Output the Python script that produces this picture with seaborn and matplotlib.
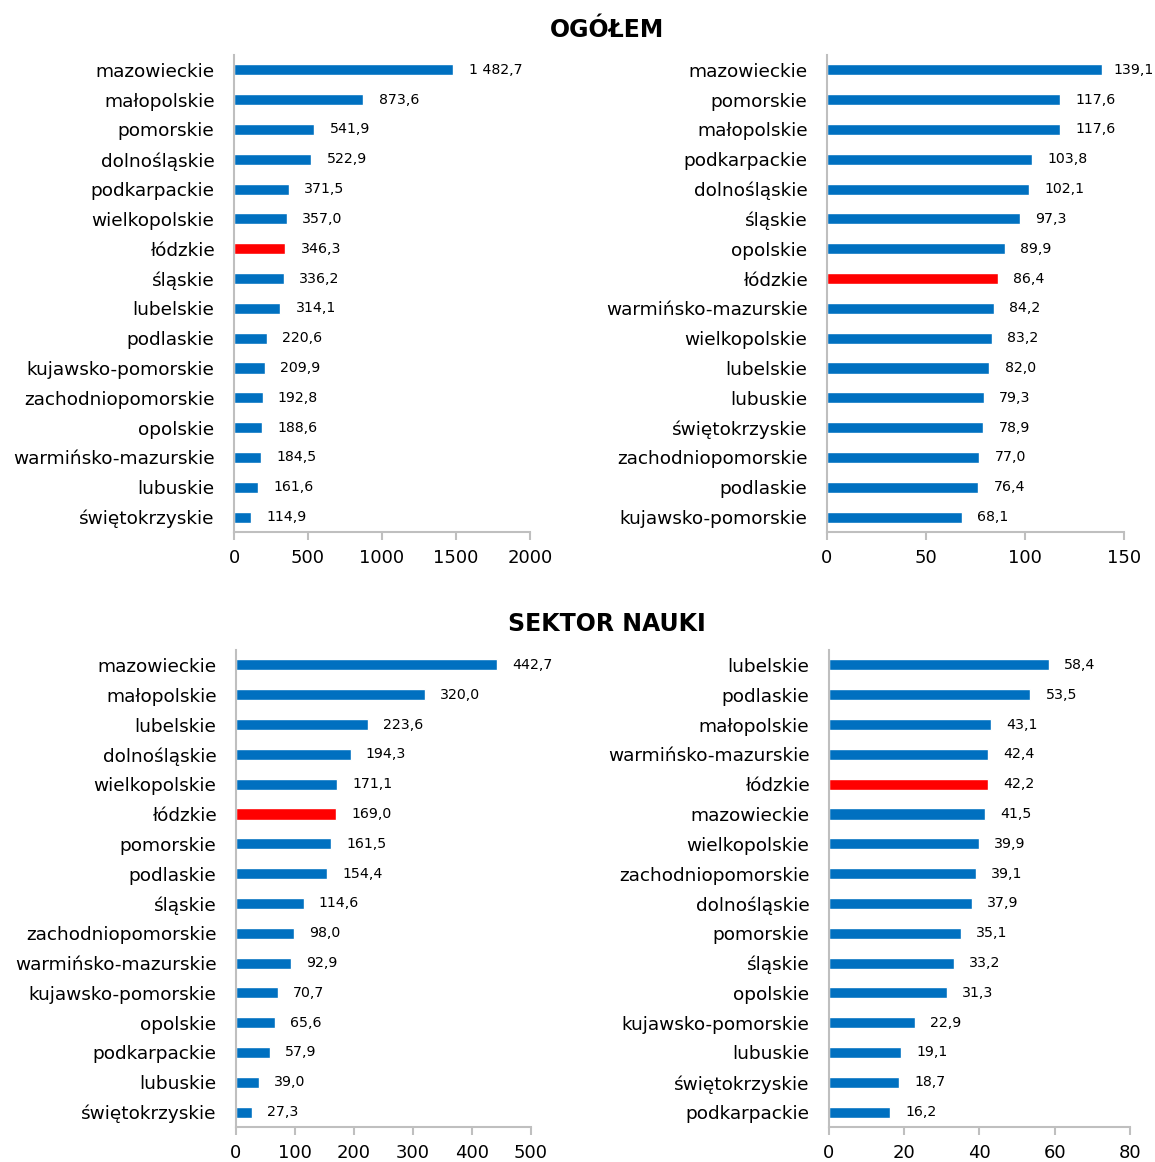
import pandas as pd
import seaborn as sns
import matplotlib.pyplot as plt

# ===================== data ===================== #
ogolem_abs_regions = ["mazowieckie", "małopolskie", "pomorskie", "dolnośląskie", "podkarpackie",
                      "wielkopolskie", "łódzkie", "śląskie", "lubelskie", "podlaskie",
                      "kujawsko-pomorskie", "zachodniopomorskie", "opolskie",
                      "warmińsko-mazurskie", "lubuskie", "świętokrzyskie"]
ogolem_abs_values = [1482.7, 873.6, 541.9, 522.9, 371.5, 357.0, 346.3, 336.2, 314.1, 220.6,
                     209.9, 192.8, 188.6, 184.5, 161.6, 114.9]

ogolem_rel_regions = ["mazowieckie", "pomorskie", "małopolskie", "podkarpackie", "dolnośląskie",
                      "śląskie", "opolskie", "łódzkie", "warmińsko-mazurskie", "wielkopolskie",
                      "lubelskie", "lubuskie", "świętokrzyskie", "zachodniopomorskie",
                      "podlaskie", "kujawsko-pomorskie"]
ogolem_rel_values = [139.1, 117.6, 117.6, 103.8, 102.1, 97.3, 89.9, 86.4, 84.2, 83.2,
                     82.0, 79.3, 78.9, 77.0, 76.4, 68.1]

nauka_abs_regions = ["mazowieckie", "małopolskie", "lubelskie", "dolnośląskie", "wielkopolskie",
                     "łódzkie", "pomorskie", "podlaskie", "śląskie", "zachodniopomorskie",
                     "warmińsko-mazurskie", "kujawsko-pomorskie", "opolskie", "podkarpackie",
                     "lubuskie", "świętokrzyskie"]
nauka_abs_values = [442.7, 320.0, 223.6, 194.3, 171.1, 169.0, 161.5, 154.4, 114.6, 98.0,
                    92.9, 70.7, 65.6, 57.9, 39.0, 27.3]

nauka_rel_regions = ["lubelskie", "podlaskie", "małopolskie", "warmińsko-mazurskie", "łódzkie",
                     "mazowieckie", "wielkopolskie", "zachodniopomorskie", "dolnośląskie",
                     "pomorskie", "śląskie", "opolskie", "kujawsko-pomorskie", "lubuskie",
                     "świętokrzyskie", "podkarpackie"]
nauka_rel_values = [58.4, 53.5, 43.1, 42.4, 42.2, 41.5, 39.9, 39.1, 37.9, 35.1, 33.2, 31.3,
                    22.9, 19.1, 18.7, 16.2]

section_titles = ["OGÓŁEM", "SEKTOR NAUKI"]
highlight = "łódzkie"
BLUE = "#0070C0"
RED = "#FF0000"
GRID = "#BFBFBF"


def fmt(v):
    s = f"{v:,.1f}"
    return s.replace(",", " ").replace(".", ",")


# ===================== plot ===================== #
sns.set_theme(style="white")
plt.rcParams['font.family'] = ['DejaVu Sans']
plt.rcParams['text.color'] = 'black'
plt.rcParams['xtick.labelcolor'] = 'black'
plt.rcParams['ytick.labelcolor'] = 'black'

fig = plt.figure(figsize=(11.55, 11.62), dpi=100)

panels = [
    (ogolem_abs_regions, ogolem_abs_values, [0.2026, 0.5422, 0.2563, 0.4105], 2000, [0, 500, 1000, 1500, 2000]),
    (ogolem_rel_regions, ogolem_rel_values, [0.7160, 0.5422, 0.2571, 0.4105], 150, [0, 50, 100, 150]),
    (nauka_abs_regions, nauka_abs_values, [0.2043, 0.0301, 0.2554, 0.4105], 500, [0, 100, 200, 300, 400, 500]),
    (nauka_rel_regions, nauka_rel_values, [0.7177, 0.0301, 0.2606, 0.4105], 80, [0, 20, 40, 60, 80]),
]

for regions, values, rect, xmax, ticks in panels:
    ax = fig.add_axes(rect)
    df = pd.DataFrame({"region": regions, "value": values})
    pal = {r: (RED if r == highlight else BLUE) for r in regions}
    sns.barplot(data=df, x="value", y="region", hue="region", palette=pal, legend=False,
                width=0.37, saturation=1, ax=ax, orient="h")
    ax.set_xlim(0, xmax)
    ax.set_ylim(len(regions) - 0.5, -0.5)
    ax.set_xticks(ticks)
    ax.set_xticklabels([str(t) for t in ticks], fontsize=13)
    ax.set_xlabel("")
    ax.set_ylabel("")
    ax.tick_params(axis="y", length=0, pad=14, labelsize=13.3, labelcolor="black")
    ax.tick_params(axis="x", length=6, width=1.5, color=GRID, direction="out",
                   bottom=True, pad=6, labelcolor="black")
    for side in ["top", "right"]:
        ax.spines[side].set_visible(False)
    for side in ["left", "bottom"]:
        ax.spines[side].set_color(GRID)
        ax.spines[side].set_linewidth(1.5)
    # value labels; pull in the ones that would run off the figure (like Excel does)
    for container in ax.containers:
        for bar in container:
            w = bar.get_width()
            pad = 8 if w / xmax > 0.9 else 11
            ax.annotate(fmt(w), (w, bar.get_y() + bar.get_height() / 2),
                        xytext=(pad, 0), textcoords="offset points",
                        ha="left", va="center", fontsize=10.2, color="black")

fig.text(0.5255, 0.974, section_titles[0], ha="center", va="center",
         fontsize=17, fontweight="bold", color="black")
fig.text(0.5255, 0.463, section_titles[1], ha="center", va="center",
         fontsize=17, fontweight="bold", color="black")

fig.savefig("out.png", dpi=100)
